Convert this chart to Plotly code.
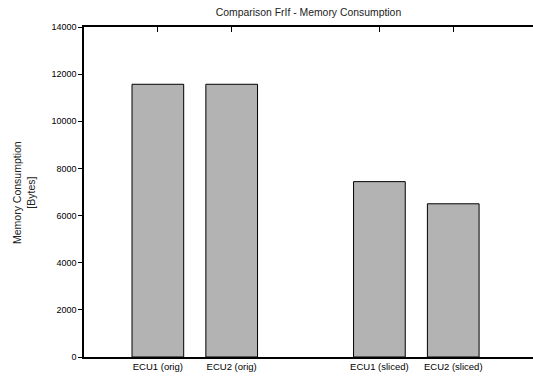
import plotly.graph_objects as go

categories = ["ECU1 (orig)", "ECU2 (orig)", "ECU1 (sliced)", "ECU2 (sliced)"]
memory_bytes = [11570, 11570, 7440, 6500]
spacer = " "
axis_order = categories[:2] + [spacer] + categories[2:]
y_ticks = [0, 2000, 4000, 6000, 8000, 10000, 12000, 14000]

W, H = 533, 379
L, R, T, B = 84, 0, 27, 22
FONT = "Liberation Sans, Arial, Helvetica, sans-serif"

fig = go.Figure()
fig.add_trace(go.Bar(
    x=categories, y=memory_bytes, width=0.7,
    marker=dict(color="#b3b3b3", line=dict(color="black", width=1)),
    showlegend=False, hoverinfo="x+y",
))

fig.update_layout(
    width=W, height=H,
    margin=dict(l=L, r=R, t=T, b=B, pad=0),
    paper_bgcolor="white", plot_bgcolor="white",
    font=dict(family=FONT, size=9, color="black"),
    title=dict(text="Comparison FrIf - Memory Consumption", x=0.5, xref="paper",
               y=1 - 12 / H, yanchor="middle", font=dict(size=10.4, color="#222")),
    xaxis=dict(type="category", categoryorder="array", categoryarray=axis_order,
               range=[-1.0, 5.08], tickvals=categories, ticks="inside", ticklen=5,
               tickcolor="black", tickwidth=1, mirror="allticks", layer="below traces",
               showgrid=False, showline=True, linecolor="black", linewidth=1.5,
               tickfont=dict(size=9.5), zeroline=False),
    yaxis=dict(range=[0, 14000], tickvals=y_ticks, tickformat="d", ticks="outside",
               ticklen=4, tickcolor="black", showgrid=False, showline=True,
               linecolor="black", linewidth=1.5, zeroline=False,
               tickfont=dict(size=9)),
    annotations=[dict(text="Memory Consumption<br>[Bytes]", textangle=-90,
                      xref="paper", yref="paper", x=(24 - L) / (W - L - R), y=0.5,
                      xanchor="center", yanchor="middle", showarrow=False,
                      font=dict(size=10.5, color="#222"))],
)

fig.write_html("out.html", config={"displayModeBar": False},
               post_script="document.body.style.margin='0';"
                           "document.body.style.overflow='hidden';")
